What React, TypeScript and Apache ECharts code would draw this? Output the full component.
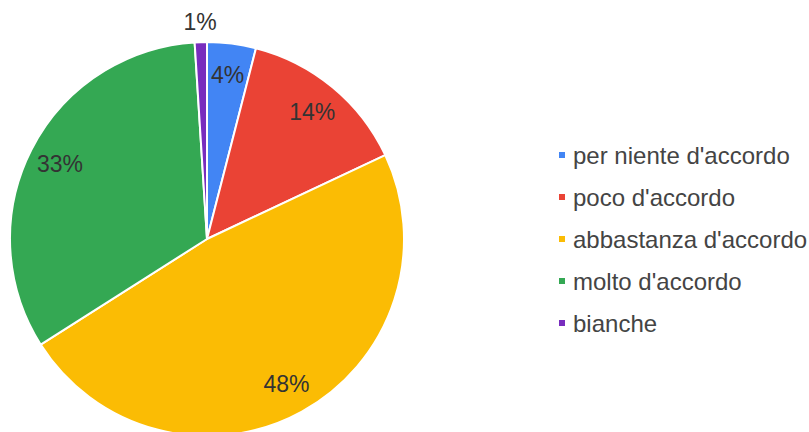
import React, { useEffect, useRef } from "react";
import * as echarts from "echarts";

const categories = [
  "per niente d'accordo",
  "poco d'accordo",
  "abbastanza d'accordo",
  "molto d'accordo",
  "bianche",
];
const values = [4, 14, 48, 33, 1];
const colors = ["#4285f4", "#ea4335", "#fbbc04", "#34a853", "#782dbe"];
const outsideLabelCategory = "bianche";

export default function App() {
  const ref = useRef<HTMLDivElement>(null);
  useEffect(() => {
    if (!ref.current) return;
    const chart = echarts.init(ref.current, null, { renderer: "svg" });
    const font = "Liberation Sans, Arial, sans-serif";
    const center = [207, 239];
    const mainData = categories.map((name, i) => ({
      name,
      value: values[i],
      itemStyle: { color: colors[i] },
    }));
    const ghost = (showFn: (n: string) => boolean) =>
      categories.map((name, i) => ({
        name,
        value: values[i],
        label: { show: showFn(name) },
      }));
    const labelStyle = {
      position: "inside",
      formatter: "{d}%",
      fontFamily: font,
      fontSize: 23,
      color: "#333333",
    };
    chart.setOption({
      animation: false,
      backgroundColor: "#ffffff",
      color: colors,
      legend: {
        orient: "vertical",
        left: 552,
        top: 138,
        itemWidth: 8,
        itemHeight: 8,
        itemGap: 18,
        icon: "rect",
        data: categories,
        textStyle: {
          fontFamily: font,
          fontSize: 24,
          lineHeight: 24,
          color: "#444444",
          padding: [0, 0, 0, 2],
        },
      },
      series: [
        {
          type: "pie",
          center,
          radius: [0, 197],
          startAngle: 90,
          clockwise: true,
          label: { show: false },
          labelLine: { show: false },
          itemStyle: { borderColor: "#ffffff", borderWidth: 2 },
          emphasis: { disabled: true },
          data: mainData,
        },
        {
          type: "pie",
          center,
          radius: [152, 172],
          startAngle: 90,
          silent: true,
          legendHoverLink: false,
          itemStyle: { color: "rgba(0,0,0,0)" },
          label: labelStyle,
          labelLine: { show: false },
          emphasis: { disabled: true },
          data: ghost((n) => n !== outsideLabelCategory),
        },
        {
          type: "pie",
          center,
          radius: [206, 222],
          startAngle: 90,
          silent: true,
          legendHoverLink: false,
          itemStyle: { color: "rgba(0,0,0,0)" },
          label: labelStyle,
          labelLine: { show: false },
          emphasis: { disabled: true },
          data: ghost((n) => n === outsideLabelCategory),
        },
      ],
    });
    return () => chart.dispose();
  }, []);
  return (
    <div
      ref={ref}
      style={{ position: "fixed", left: 0, top: 0, width: 809, height: 432 }}
    />
  );
}
